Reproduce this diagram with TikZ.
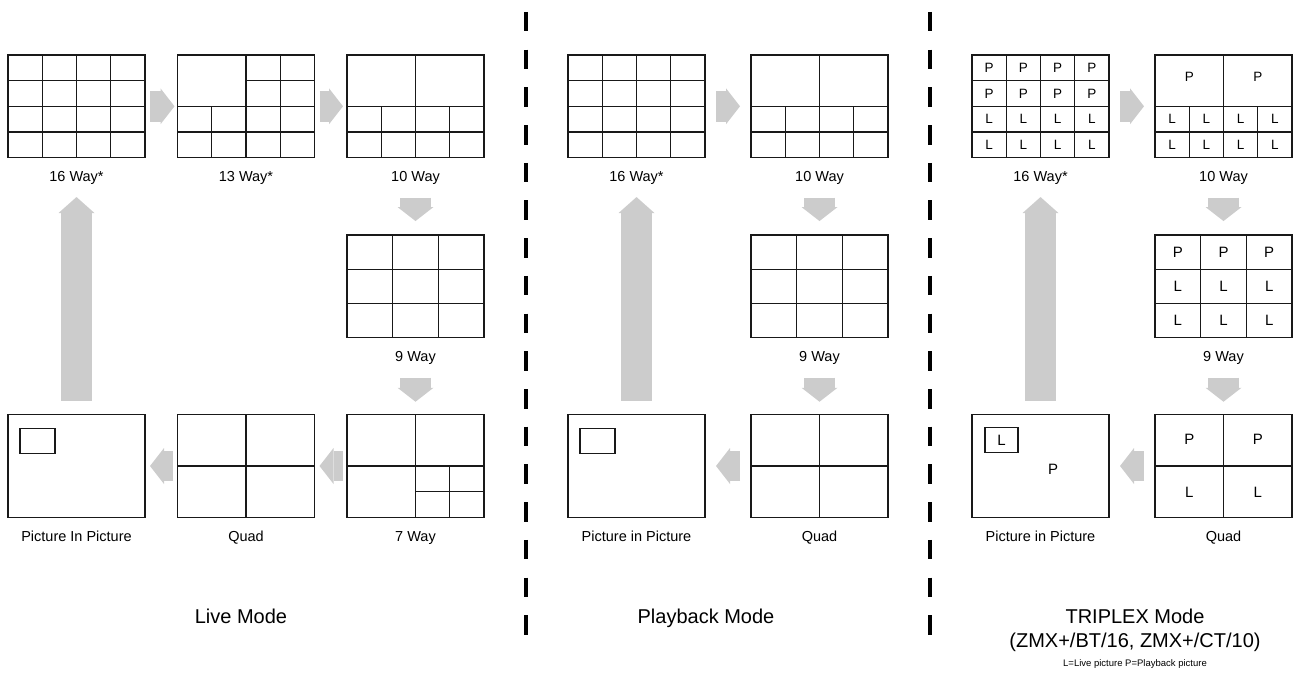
\documentclass[tikz,border=0pt]{standalone}
\usepackage{fontspec}
\setmainfont{Liberation Sans}
\usetikzlibrary{calc,arrows.meta}
\definecolor{arrowgray}{RGB}{204,204,204}
\definecolor{linegray}{RGB}{25,25,25}
\tikzset{
  screen/.style={draw=linegray, line width=1.2pt, minimum width=137pt, minimum height=102.5pt, inner sep=0pt, outer sep=0pt},
  inset/.style={draw=linegray, line width=1.2pt, minimum width=35pt, minimum height=25pt, inner sep=0pt, outer sep=0pt, font=\fontsize{15}{18}\selectfont},
  gridline/.style={draw=linegray, line width=1.2pt},
  caption/.style={font=\fontsize{14.5}{17}\selectfont, inner sep=0pt, anchor=base},
  cellsm/.style={font=\fontsize{13.5}{16}\selectfont, inner sep=0pt},
  cellbig/.style={font=\fontsize{15}{18}\selectfont, inner sep=0pt},
  modelabel/.style={font=\fontsize{20}{24}\selectfont, inner sep=0pt, anchor=base},
  notelabel/.style={font=\fontsize{9.5}{11}\selectfont, inner sep=0pt, anchor=base},
  flow/.style={draw=arrowgray, line width=30.5pt, -{Triangle[width=36pt,length=14pt,line width=0pt]}},
  bigflow/.style={draw=arrowgray, line width=30.5pt, -{Triangle[width=36pt,length=16pt,line width=0pt]}},
  sepline/.style={draw=black, line width=4.5pt, dash pattern=on 19.5pt off 18.2pt},
}
\newcommand{\vseg}[4]{\draw[gridline] ($(#1.north west)+({#2*137},{#3*102.5})$) -- ($(#1.north west)+({#2*137},{#4*102.5})$);}
\newcommand{\hseg}[4]{\draw[gridline] ($(#1.north west)+({#3*137},{#2*102.5})$) -- ($(#1.north west)+({#4*137},{#2*102.5})$);}
\newcommand{\gridsixteen}[1]{\foreach \f in {0.25,0.5,0.75} {\vseg{#1}{\f}{0}{1}\hseg{#1}{\f}{0}{1}}}
\newcommand{\gridthirteen}[1]{\vseg{#1}{0.5}{0}{1}\vseg{#1}{0.75}{0}{1}\vseg{#1}{0.25}{0.5}{1}\hseg{#1}{0.5}{0}{1}\hseg{#1}{0.75}{0}{1}\hseg{#1}{0.25}{0.5}{1}}
\newcommand{\gridten}[1]{\vseg{#1}{0.5}{0}{1}\vseg{#1}{0.25}{0.5}{1}\vseg{#1}{0.75}{0.5}{1}\hseg{#1}{0.5}{0}{1}\hseg{#1}{0.75}{0}{1}}
\newcommand{\gridnine}[1]{\foreach \f in {0.33333,0.66667} {\vseg{#1}{\f}{0}{1}\hseg{#1}{\f}{0}{1}}}
\newcommand{\gridseven}[1]{\vseg{#1}{0.5}{0}{1}\hseg{#1}{0.5}{0}{1}\vseg{#1}{0.75}{0.5}{1}\hseg{#1}{0.75}{0.5}{1}}
\newcommand{\gridquad}[1]{\vseg{#1}{0.5}{0}{1}\hseg{#1}{0.5}{0}{1}}
\begin{document}
\begin{tikzpicture}[x=1pt,y=-1pt]
\useasboundingbox (0,0) rectangle (1300,676);

% ---------------- Live Mode ----------------
\node[screen] (l16) at (76.5,106.3) {};
\node[screen] (l13) at (246,106.3) {};
\node[screen] (l10) at (415.5,106.3) {};
\node[screen] (l9) at (415.5,286.3) {};
\node[screen] (l7) at (415.5,466) {};
\node[screen] (lquad) at (246,466) {};
\node[screen] (lpip) at (76.5,466) {};
\gridsixteen{l16}
\gridthirteen{l13}
\gridten{l10}
\gridnine{l9}
\gridseven{l7}
\gridquad{lquad}
\node[inset] (lpipin) at ($(lpip.north west)+(29.5,26.5)$) {};

\node[caption] (l16cap) at ($(l16.south)+(0,24)$) {16 Way*};
\node[caption] (l13cap) at ($(l13.south)+(0,24)$) {13 Way*};
\node[caption] (l10cap) at ($(l10.south)+(0,24)$) {10 Way};
\node[caption] (l9cap) at ($(l9.south)+(0,24)$) {9 Way};
\node[caption] (l7cap) at ($(l7.south)+(0,24)$) {7 Way};
\node[caption] (lquadcap) at ($(lquad.south)+(0,24)$) {Quad};
\node[caption] (lpipcap) at ($(lpip.south)+(0,24)$) {Picture In Picture};

\draw[flow, shorten <=5pt, shorten >=3pt] (l16.east) -- (l13.west);
\draw[flow, shorten <=5pt, shorten >=4pt] (l13.east) -- (l10.west);
\draw[flow, shorten <=40pt, shorten >=14pt] (l10.south) -- (l9.north);
\draw[flow, shorten <=40pt, shorten >=13pt] (l9.south) -- (l7.north);
\draw[flow, shorten <=4pt, shorten >=5pt] (l7.west) -- (lquad.east);
\draw[flow, shorten <=4.5pt, shorten >=5pt] (lquad.west) -- (lpip.east);
\draw[bigflow, shorten <=14pt, shorten >=39.5pt] (lpip.north) -- (l16.south);

% ---------------- Playback Mode ----------------
\node[screen] (p16) at (636.5,106.3) {};
\node[screen] (p10) at (819.5,106.3) {};
\node[screen] (p9) at (819.5,286.3) {};
\node[screen] (pquad) at (819.5,466) {};
\node[screen] (ppip) at (636.5,466) {};
\gridsixteen{p16}
\gridten{p10}
\gridnine{p9}
\gridquad{pquad}
\node[inset] (ppipin) at ($(ppip.north west)+(29.5,26.5)$) {};

\node[caption] (p16cap) at ($(p16.south)+(0,24)$) {16 Way*};
\node[caption] (p10cap) at ($(p10.south)+(0,24)$) {10 Way};
\node[caption] (p9cap) at ($(p9.south)+(0,24)$) {9 Way};
\node[caption] (pquadcap) at ($(pquad.south)+(0,24)$) {Quad};
\node[caption] (ppipcap) at ($(ppip.south)+(0,24)$) {Picture in Picture};

\draw[flow, shorten <=11pt, shorten >=11pt] (p16.east) -- (p10.west);
\draw[flow, shorten <=40pt, shorten >=14pt] (p10.south) -- (p9.north);
\draw[flow, shorten <=40pt, shorten >=13pt] (p9.south) -- (pquad.north);
\draw[flow, shorten <=11pt, shorten >=11pt] (pquad.west) -- (ppip.east);
\draw[bigflow, shorten <=14pt, shorten >=39.5pt] (ppip.north) -- (p16.south);

% ---------------- TRIPLEX Mode ----------------
\node[screen] (t16) at (1040.5,106.3) {};
\node[screen] (t10) at (1223.5,106.3) {};
\node[screen] (t9) at (1223.5,286.3) {};
\node[screen] (tquad) at (1223.5,466) {};
\node[screen] (tpip) at (1040.5,466) {};
\gridsixteen{t16}
\gridten{t10}
\gridnine{t9}
\gridquad{tquad}

\foreach \r in {0,1} \foreach \c in {0,...,3}
  \node[cellsm] (t16p\r\c) at ($(t16.north west)+({(\c+0.5)*34.25},{(\r+0.5)*25.625})$) {P};
\foreach \r in {2,3} \foreach \c in {0,...,3}
  \node[cellsm] (t16l\r\c) at ($(t16.north west)+({(\c+0.5)*34.25},{(\r+0.5)*25.625})$) {L};

\node[cellsm] (t10p0) at ($(t10.north west)+(34.25,22)$) {P};
\node[cellsm] (t10p1) at ($(t10.north west)+(102.75,22)$) {P};
\foreach \r in {2,3} \foreach \c in {0,...,3}
  \node[cellsm] (t10l\r\c) at ($(t10.north west)+({(\c+0.5)*34.25},{(\r+0.5)*25.625})$) {L};

\foreach \c in {0,1,2}
  \node[cellbig] (t9p\c) at ($(t9.north west)+({(\c+0.5)*45.667},{0.5*34.167})$) {P};
\foreach \r in {1,2} \foreach \c in {0,1,2}
  \node[cellbig] (t9l\r\c) at ($(t9.north west)+({(\c+0.5)*45.667},{(\r+0.5)*34.167})$) {L};

\node[cellbig] (tqp0) at ($(tquad.north west)+(34.25,24.5)$) {P};
\node[cellbig] (tqp1) at ($(tquad.north west)+(102.75,24.5)$) {P};
\node[cellbig] (tql0) at ($(tquad.north west)+(34.25,78)$) {L};
\node[cellbig] (tql1) at ($(tquad.north west)+(102.75,78)$) {L};

\node[inset, minimum width=33pt] (tpipin) at ($(tpip.north west)+(29.5,25.5)$) {L};
\node[cellbig] (tpipp) at ($(tpip.north west)+(81,55)$) {P};

\node[caption] (t16cap) at ($(t16.south)+(0,24)$) {16 Way*};
\node[caption] (t10cap) at ($(t10.south)+(0,24)$) {10 Way};
\node[caption] (t9cap) at ($(t9.south)+(0,24)$) {9 Way};
\node[caption] (tquadcap) at ($(tquad.south)+(0,24)$) {Quad};
\node[caption] (tpipcap) at ($(tpip.south)+(0,24)$) {Picture in Picture};

\draw[flow, shorten <=11pt, shorten >=11pt] (t16.east) -- (t10.west);
\draw[flow, shorten <=40pt, shorten >=14pt] (t10.south) -- (t9.north);
\draw[flow, shorten <=40pt, shorten >=13pt] (t9.south) -- (tquad.north);
\draw[flow, shorten <=11pt, shorten >=11pt] (tquad.west) -- (tpip.east);
\draw[bigflow, shorten <=14pt, shorten >=39.5pt] (tpip.north) -- (t16.south);

% ---------------- separators ----------------
\coordinate (sepatop) at (526,12);
\coordinate (sepabot) at (526,639);
\coordinate (sepbtop) at (930,12);
\coordinate (sepbbot) at (930,639);
\draw[sepline] (sepatop) -- (sepabot);
\draw[sepline] (sepbtop) -- (sepbbot);

% ---------------- mode labels ----------------
\node[modelabel] (livemode) at (241,623) {Live Mode};
\node[modelabel] (pbmode) at (706,623) {Playback Mode};
\node[modelabel] (tpmode) at (1135,623) {TRIPLEX Mode};
\node[modelabel] (tpmodels) at (1135,647) {(ZMX+/BT/16, ZMX+/CT/10)};
\node[notelabel] (legend) at (1135,666) {L=Live picture P=Playback picture};
\end{tikzpicture}
\end{document}
